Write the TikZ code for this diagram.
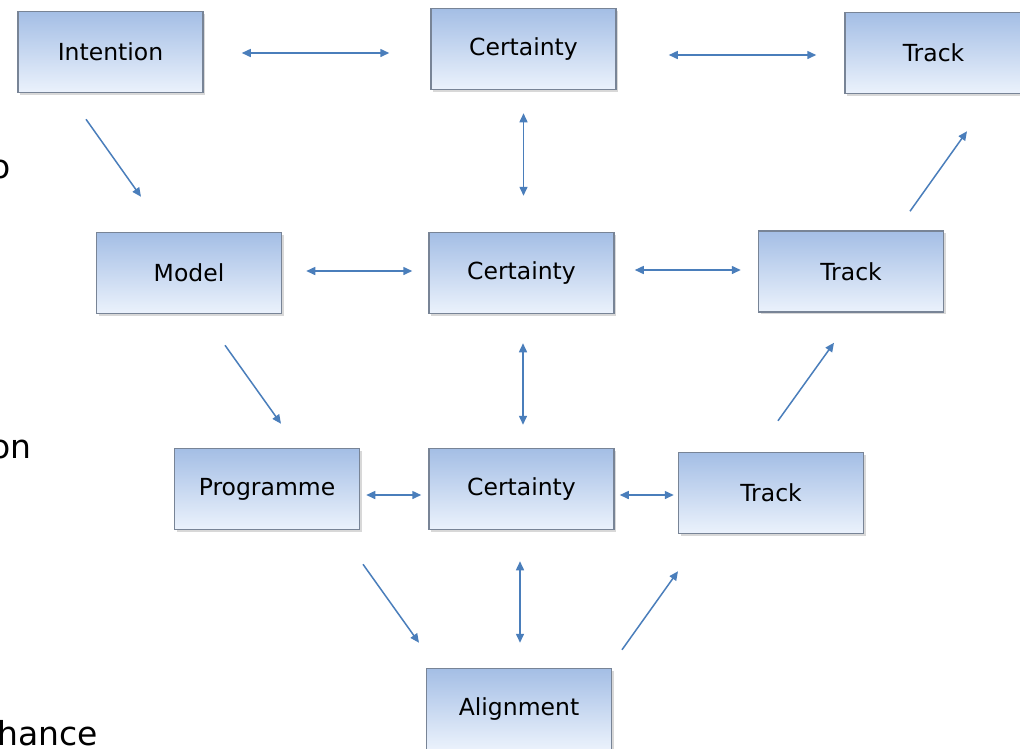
\documentclass[tikz,border=0pt]{standalone}
\usepackage{fontspec}
\setmainfont{DejaVu Sans}
\usetikzlibrary{arrows.meta,shadows}
\definecolor{boxtop}{RGB}{164,190,229}
\definecolor{boxbot}{RGB}{235,242,252}
\definecolor{boxedge}{RGB}{120,132,150}
\definecolor{arrowblue}{RGB}{74,126,187}
\tikzset{
  stage/.style={rectangle, minimum width=185pt, minimum height=81pt,
    top color=boxtop, bottom color=boxbot, draw=boxedge, line width=1.5pt,
    font=\fontsize{23.5}{28}\selectfont, text=black,
    drop shadow={shadow xshift=2pt, shadow yshift=-2pt, opacity=0.3}},
  link/.style={draw=arrowblue, line width=1.5pt, -{Triangle[length=9pt,width=8pt]}},
  twoway/.style={link, {Triangle[length=9pt,width=8pt]}-{Triangle[length=9pt,width=8pt]}},
  edgetext/.style={anchor=base east, inner sep=0pt, font=\fontsize{33}{40}\selectfont}
}
\begin{document}
\begin{tikzpicture}[x=1pt, y=-1pt]
\clip (0,0) rectangle (1020,748);
\fill[white] (0,0) rectangle (1020,748);

% text running in from the left edge
\node[edgetext] (t1) at (11,178) {o};
\node[edgetext] (t2) at (32,458) {on};
\node[edgetext] (t3) at (98,745) {hance};

% stages
\node[stage] (intention) at (110.5,52) {Intention};
\node[stage] (certT) at (523.5,49) {Certainty};
\node[stage, minimum width=177pt] (trackT) at (933.5,53) {Track};
\node[stage] (model) at (189,273) {Model};
\node[stage] (certM) at (521.5,273) {Certainty};
\node[stage] (trackM) at (851,271.5) {Track};
\node[stage] (programme) at (267,489) {Programme};
\node[stage] (certL) at (521.5,489) {Certainty};
\node[stage] (trackL) at (771,493) {Track};
\node[stage] (align) at (519,709) {Alignment};

% two-way links along the rows
\draw[twoway] ([shift={(38,1)}]intention.east) -- ([shift={(-41,4)}]certT.west);
\draw[twoway] ([shift={(52,6)}]certT.east) -- ([shift={(-28,2)}]trackT.west);
\draw[twoway] ([shift={(24,-2)}]model.east) -- ([shift={(-16,-2)}]certM.west);
\draw[twoway] ([shift={(20,-3)}]certM.east) -- ([shift={(-17,-1.5)}]trackM.west);
\draw[twoway] ([shift={(6,6)}]programme.east) -- ([shift={(-7,6)}]certL.west);
\draw[twoway] ([shift={(5,6)}]certL.east) -- ([shift={(-4,2)}]trackL.west);

% two-way links down the middle column
\draw[twoway] ([shift={(0,23)}]certT.south) -- ([shift={(2,-36)}]certM.north);
\draw[twoway] ([shift={(1.5,29)}]certM.south) -- ([shift={(1.5,-23)}]certL.north);
\draw[twoway] ([shift={(-1.5,31)}]certL.south) -- ([shift={(1,-25)}]align.north);

% descending flow on the left
\draw[link] ([shift={(-24.5,26)}]intention.south) -- ([shift={(-48,-35)}]model.north);
\draw[link] ([shift={(36,31)}]model.south) -- ([shift={(14,-24)}]programme.north);
\draw[link] ([shift={(96,34)}]programme.south) -- ([shift={(-100,-25)}]align.north);

% ascending flow on the right
\draw[link] ([shift={(103,-18)}]align.north) -- ([shift={(-93,37)}]trackL.south);
\draw[link] ([shift={(7,-31)}]trackL.north) -- ([shift={(-17,30)}]trackM.south);
\draw[link] ([shift={(59,-19)}]trackM.north) -- ([shift={(33.5,37)}]trackT.south);
\end{tikzpicture}
\end{document}
